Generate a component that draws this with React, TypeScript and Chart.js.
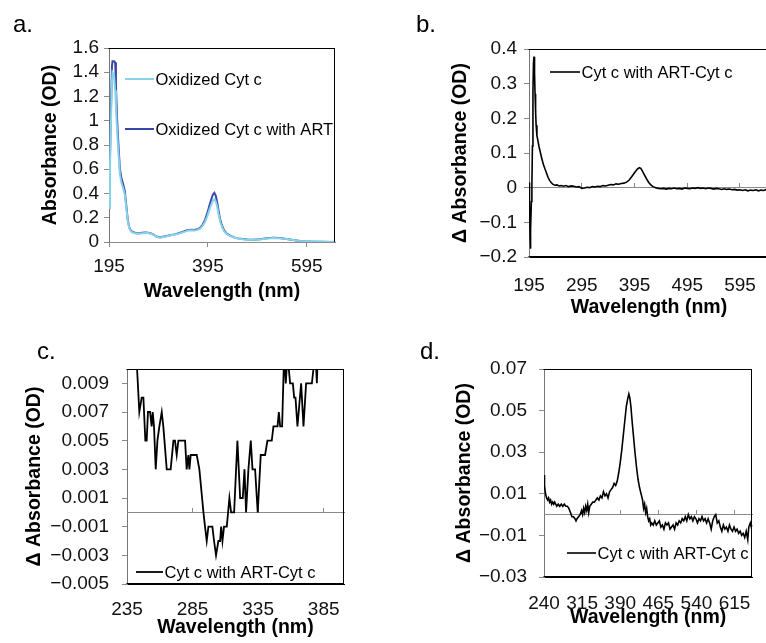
import React, { useEffect, useRef } from "react";
import { Chart, registerables } from "chart.js";

Chart.register(...registerables);

const FONT = "'Liberation Sans', Arial, Helvetica, sans-serif";

// ---------------- Panel a ----------------
const A_NM = [
  195, 197, 199, 201, 202, 205, 207.5, 209, 211, 213,
  215, 217, 220, 224, 227, 230, 233, 236, 239, 242,
  246, 250, 256, 262, 268, 274, 280, 285, 290, 295,
  300, 306, 312, 320, 328, 336, 344, 350, 356, 362,
  368, 374, 379, 384, 389, 394, 398, 402, 405, 408,
  411, 414, 417, 420, 424, 428, 433, 440, 448, 456,
  465, 475, 487, 500, 514, 527, 540, 554, 568, 581,
  595, 610, 625, 640, 652,
];
const A_OXIDIZED = [
  0.28, 0.62, 1.0, 1.32, 1.4, 1.38, 1.25, 1.12, 0.95, 0.8,
  0.68, 0.56, 0.49, 0.44, 0.39, 0.28, 0.17, 0.115, 0.09, 0.08,
  0.074, 0.07, 0.07, 0.073, 0.075, 0.074, 0.068, 0.058, 0.046, 0.039,
  0.038, 0.043, 0.048, 0.055, 0.061, 0.069, 0.079, 0.088, 0.095, 0.096,
  0.094, 0.1, 0.11, 0.13, 0.165, 0.215, 0.265, 0.31, 0.34, 0.352,
  0.335, 0.285, 0.22, 0.165, 0.12, 0.088, 0.066, 0.05, 0.037, 0.029,
  0.023, 0.019, 0.018, 0.021, 0.028, 0.033, 0.03, 0.024, 0.016, 0.009,
  0.006, 0.004, 0.003, 0.003, 0.002,
];
const A_OXIDIZED_ART = [
  0.3, 0.7, 1.1, 1.45, 1.49, 1.49, 1.48, 1.3, 1.05, 0.88,
  0.74, 0.6, 0.53, 0.47, 0.42, 0.3, 0.18, 0.12, 0.095, 0.085,
  0.078, 0.073, 0.073, 0.076, 0.078, 0.077, 0.07, 0.06, 0.047, 0.04,
  0.039, 0.045, 0.05, 0.057, 0.063, 0.072, 0.083, 0.093, 0.1, 0.101,
  0.099, 0.105, 0.116, 0.14, 0.18, 0.24, 0.3, 0.355, 0.39, 0.405,
  0.38, 0.32, 0.245, 0.18, 0.13, 0.095, 0.07, 0.052, 0.038, 0.03,
  0.024, 0.02, 0.018, 0.022, 0.03, 0.036, 0.032, 0.025, 0.016, 0.008,
  0.005, 0.003, 0.002, 0.001, 0.001,
];
const A_X_TICKS = [195, 395, 595];
const A_X_LABELS = ["195", "395", "595"];
const A_Y_TICKS = [0, 0.2, 0.4, 0.6, 0.8, 1.0, 1.2, 1.4, 1.6];
const A_Y_LABELS = ["0", "0.2", "0.4", "0.6", "0.8", "1", "1.2", "1.4", "1.6"];

// ---------------- Panel b ----------------
const B_NM = [
  195, 196, 197, 197.5, 198.5, 199.5, 200.5, 201.5, 202.5, 203.5,
  204.5, 205.5, 206.5, 207.5, 208.5, 210, 212, 214, 216, 218,
  220, 222, 225, 228, 231, 234, 237, 240, 244, 248,
  252, 256, 260, 265, 270, 275, 280, 285, 290, 295,
  300, 305, 310, 315, 320, 325, 330, 335, 340, 345,
  350, 355, 360, 365, 370, 375, 380, 385, 390, 395,
  400, 404, 407, 410, 414, 418, 422, 426, 430, 435,
  440, 445, 450, 455, 460, 465, 470, 475, 480, 485,
  490, 495, 500, 505, 510, 515, 520, 525, 530, 535,
  540, 545, 550, 555, 560, 565, 570, 575, 580, 585,
  590, 595, 600, 605, 610, 615, 620, 625, 630, 635,
  640, 645, 650,
];
const B_DELTA = [
  0.015, -0.05, -0.14, -0.176, -0.12, -0.04, 0.01, 0.12, 0.28, 0.36,
  0.378, 0.33, 0.27, 0.22, 0.18, 0.15, 0.135, 0.118, 0.105, 0.092,
  0.08, 0.068, 0.055, 0.043, 0.03, 0.021, 0.015, 0.01, 0.007, 0.008,
  0.005, 0.006, 0.004, 0.006, 0.003, 0.005, 0.004, 0.002, 0.003, -0.002,
  -0.001, 0.001, 0.0, 0.003, 0.002, 0.004, 0.003, 0.006, 0.005, 0.007,
  0.009, 0.008, 0.011, 0.01, 0.012, 0.013, 0.016, 0.022, 0.032, 0.043,
  0.053, 0.058, 0.056, 0.048, 0.036, 0.025, 0.015, 0.008, 0.003, 0.0,
  -0.002, -0.003, -0.002, -0.004, -0.002, -0.003, -0.001, -0.003, -0.002, -0.004,
  -0.001, -0.002, -0.003, -0.001, -0.002, 0.0, -0.002, -0.001, -0.003, -0.001,
  -0.002, -0.004, -0.002, -0.003, -0.005, -0.003, -0.005, -0.004, -0.006, -0.005,
  -0.007, -0.006, -0.008, -0.006, -0.009, -0.007, -0.008, -0.006, -0.009, -0.007,
  -0.008, -0.005, -0.007,
];
const B_X_TICKS = [195, 295, 395, 495, 595];
const B_X_LABELS = ["195", "295", "395", "495", "595"];
const B_Y_TICKS = [-0.2, -0.1, 0, 0.1, 0.2, 0.3, 0.4];
const B_Y_LABELS = ["\u22120.2", "\u22120.1", "0", "0.1", "0.2", "0.3", "0.4"];

// ---------------- Panel c ----------------
const C_NM = [
  238, 242.4, 244.4, 246.2, 247.5, 249.0, 250.0, 251.0, 252.6, 253.8,
  254.6, 255.6, 256.9, 258.2, 259.7, 261.5, 262.7, 265.3, 268.3, 270.4,
  271.6, 272.9, 274.2, 279.3, 280.5, 281.8, 282.6, 283.6, 288.2, 290.2,
  293.3, 294.5, 295.8, 297.1, 300.1, 301.4, 302.9, 304.7, 306.0, 306.8,
  307.8, 309.0, 311.1, 313.1, 314.4, 316.7, 319.2, 321.3, 323.3, 324.6,
  325.8, 327.6, 329.4, 330.7, 332.7, 334.7, 337.0, 340.3, 342.1, 345.4,
  346.7, 349.8, 350.8, 351.8, 353.3, 354.8, 356.1, 357.4, 359.4, 361.5,
  362.5, 363.5, 365.0, 367.8, 369.6, 371.6, 376.0, 377.2, 379.3, 379.8,
  380.5, 385, 392, 400,
];
const C_DELTA = [
  0.014, 0.0105, 0.007, 0.008, 0.008, 0.005, 0.005, 0.007, 0.007, 0.006,
  0.007, 0.006, 0.003, 0.005, 0.006, 0.007, 0.006, 0.003, 0.003, 0.005,
  0.005, 0.004, 0.005, 0.005, 0.003, 0.004, 0.003, 0.004, 0.004, 0.003,
  0.0, -0.001, -0.002, -0.001, -0.001, -0.002, -0.003, -0.002, -0.002, -0.001,
  -0.002, -0.001, -0.001, 0.001, 0.0, 0.0, 0.005, 0.001, 0.001, 0.003,
  0.0, 0.003, 0.005, 0.003, 0.003, 0.0, 0.004, 0.004, 0.005, 0.005,
  0.006, 0.006, 0.007, 0.006, 0.006, 0.011, 0.009, 0.011, 0.009, 0.009,
  0.008, 0.008, 0.006, 0.009, 0.006, 0.009, 0.009, 0.01, 0.01, 0.009,
  0.011, 0.013, 0.015, 0.016,
];
const C_X_TICKS = [235, 285, 335, 385];
const C_X_LABELS = ["235", "285", "335", "385"];
const C_Y_TICKS = [-0.005, -0.003, -0.001, 0.001, 0.003, 0.005, 0.007, 0.009];
const C_Y_LABELS = ["\u22120.005", "\u22120.003", "\u22120.001", "0.001", "0.003", "0.005", "0.007", "0.009"];

// ---------------- Panel d ----------------
const D_NM = [
  240, 241, 243, 245, 247, 249, 251, 253, 255, 257,
  259, 261, 263, 265, 268, 271, 274, 277, 280, 283,
  286, 289, 292, 295, 298, 301, 303, 305, 308, 311,
  314, 316, 318, 320, 322, 324, 326, 328, 330, 333,
  336, 339, 342, 345, 348, 351, 354, 357, 360, 363,
  366, 369, 372, 375, 378, 381, 384, 387, 390, 393,
  396, 399, 402, 405, 407, 409, 411, 413, 416, 419,
  422, 425, 428, 431, 434, 436, 438, 440, 442, 444,
  446, 448, 450, 452, 455, 458, 461, 464, 467, 470,
  473, 476, 479, 482, 485, 488, 491, 494, 497, 500,
  503, 506, 509, 512, 515, 518, 521, 524, 527, 530,
  533, 536, 539, 542, 545, 548, 551, 554, 557, 560,
  563, 566, 569, 572, 575, 578, 581, 584, 587, 590,
  593, 596, 599, 602, 605, 608, 611, 614, 617, 620,
  623, 626, 629, 632, 635, 638, 641, 643, 646, 648,
  650,
];
const D_DELTA = [
  0.019, 0.014, 0.01, 0.008, 0.007, 0.008, 0.006, 0.007, 0.005, 0.006,
  0.005, 0.006, 0.005, 0.004, 0.005, 0.004, 0.005, 0.004, 0.005, 0.004,
  0.004, 0.003, 0.001, -0.001, -0.001, -0.002, -0.003, -0.002, -0.001, 0.0,
  0.002, 0.0, 0.003, 0.001, 0.004, 0.002, 0.005, 0.001, 0.004, 0.005,
  0.006, 0.006, 0.007, 0.008, 0.007, 0.009, 0.008, 0.011, 0.009, 0.01,
  0.008, 0.011, 0.012, 0.013, 0.015, 0.014, 0.016, 0.02, 0.025, 0.031,
  0.038, 0.045, 0.052, 0.056, 0.058, 0.056, 0.052, 0.046, 0.038, 0.03,
  0.023, 0.017, 0.013, 0.01, 0.007, 0.003, 0.005, 0.001, 0.003, -0.001,
  -0.003, -0.002, -0.005, -0.004, -0.005, -0.003, -0.005, -0.004, -0.003, -0.006,
  -0.005, -0.007, -0.004, -0.005, -0.004, -0.007, -0.006, -0.005, -0.007, -0.004,
  -0.005, -0.003, -0.004, -0.002, -0.003, -0.001, -0.003, 0.0, -0.002, -0.001,
  -0.003, -0.001, -0.002, -0.004, -0.002, -0.003, -0.001, -0.003, -0.002, -0.004,
  -0.002, -0.004, -0.007, -0.003, -0.001, 0.0, -0.004, -0.003, -0.006, -0.008,
  -0.005, -0.007, -0.006, -0.008, -0.005, -0.007, -0.008, -0.006, -0.008, -0.007,
  -0.009, -0.008, -0.01, -0.009, -0.011, -0.008, -0.012, -0.006, -0.004, -0.006,
  -0.005,
];
const D_X_TICKS = [240, 315, 390, 465, 540, 615];
const D_X_LABELS = ["240", "315", "390", "465", "540", "615"];
const D_Y_TICKS = [-0.03, -0.01, 0.01, 0.03, 0.05, 0.07];
const D_Y_LABELS = ["\u22120.03", "\u22120.01", "0.01", "0.03", "0.05", "0.07"];

const LEGEND_DIFF = "Cyt c with ART-Cyt c";
const X_TITLE = "Wavelength (nm)";

// ---------------- layout / style ----------------
type Series = { label: string; x: number[]; y: number[]; color: string; width: number };
type Spec = {
  letter: string;
  letterPos: [number, number];
  canvas: { left: number; top: number; width: number; height: number };
  area: { left: number; top: number; right: number; bottom: number };
  yTitleX: number;
  xTitleY: number;
  xRange: [number, number];
  yRange: [number, number];
  xTicks: number[];
  xLabels: string[];
  yTicks: number[];
  yLabels: string[];
  yTitle: string;
  series: Series[];
  legend: { x1: number; x2: number; y: number }[];
  zeroLine: boolean;
  xTickMarks: boolean;
  xLabelPad: number;
  yLabelPad: number;
  frame: string[];
};

const TICK_SIZE = 19;
const TITLE_SIZE = 19.5;
const LEGEND_SIZE = 16.5;
const AXIS_GRAY = "#8a8a8a";

const SPECS: Spec[] = [
  {
    letter: "a.",
    letterPos: [13, 12],
    canvas: { left: 0, top: 0, width: 383, height: 315 },
    area: { left: 109, top: 48, right: 335, bottom: 242 },
    yTitleX: 51,
    xTitleY: 292,
    xRange: [195, 652],
    yRange: [0, 1.6],
    xTicks: A_X_TICKS,
    xLabels: A_X_LABELS,
    yTicks: A_Y_TICKS,
    yLabels: A_Y_LABELS,
    yTitle: "Absorbance (OD)",
    series: [
      { label: "Oxidized Cyt c", x: A_NM, y: A_OXIDIZED, color: "#86d3ea", width: 2 },
      { label: "Oxidized Cyt c with ART", x: A_NM, y: A_OXIDIZED_ART, color: "#3a47a6", width: 2 },
    ],
    legend: [
      { x1: 125, x2: 154, y: 79 },
      { x1: 125, x2: 154, y: 129 },
    ],
    zeroLine: false,
    xTickMarks: true,
    xLabelPad: 8,
    yLabelPad: 5,
    frame: ["top", "right"],
  },
  {
    letter: "b.",
    letterPos: [416, 12],
    canvas: { left: 383, top: 0, width: 420, height: 330 },
    area: { left: 529, top: 49, right: 769, bottom: 257 },
    yTitleX: 461,
    xTitleY: 308,
    xRange: [195, 650],
    yRange: [-0.2, 0.4],
    xTicks: B_X_TICKS,
    xLabels: B_X_LABELS,
    yTicks: B_Y_TICKS,
    yLabels: B_Y_LABELS,
    yTitle: "\u0394 Absorbance (OD)",
    series: [{ label: LEGEND_DIFF, x: B_NM, y: B_DELTA, color: "#000000", width: 1.6 }],
    legend: [{ x1: 550, x2: 580, y: 72 }],
    zeroLine: true,
    xTickMarks: false,
    xLabelPad: 17,
    yLabelPad: 7,
    frame: ["top", "right", "bottom"],
  },
  {
    letter: "c.",
    letterPos: [37, 339],
    canvas: { left: 0, top: 320, width: 383, height: 323 },
    area: { left: 127, top: 369, right: 344, bottom: 584 },
    yTitleX: 35,
    xTitleY: 628,
    xRange: [235, 400.5],
    yRange: [-0.005, 0.01],
    xTicks: C_X_TICKS,
    xLabels: C_X_LABELS,
    yTicks: C_Y_TICKS,
    yLabels: C_Y_LABELS,
    yTitle: "\u0394 Absorbance (OD)",
    series: [{ label: LEGEND_DIFF, x: C_NM, y: C_DELTA, color: "#000000", width: 1.8 }],
    legend: [{ x1: 136, x2: 163, y: 572 }],
    zeroLine: true,
    xTickMarks: false,
    xLabelPad: 14,
    yLabelPad: 13,
    frame: ["top", "right", "bottom"],
  },
  {
    letter: "d.",
    letterPos: [420, 339],
    canvas: { left: 383, top: 320, width: 383, height: 323 },
    area: { left: 544, top: 369, right: 759, bottom: 577 },
    yTitleX: 465,
    xTitleY: 618,
    xRange: [240, 650],
    yRange: [-0.03, 0.07],
    xTicks: D_X_TICKS,
    xLabels: D_X_LABELS,
    yTicks: D_Y_TICKS,
    yLabels: D_Y_LABELS,
    yTitle: "\u0394 Absorbance (OD)",
    series: [{ label: LEGEND_DIFF, x: D_NM, y: D_DELTA, color: "#000000", width: 1.6 }],
    legend: [{ x1: 567, x2: 596, y: 553 }],
    zeroLine: true,
    xTickMarks: false,
    xLabelPad: 15,
    yLabelPad: 12,
    frame: ["top", "right", "bottom"],
  },
];

const decorPlugin = {
  id: "panelDecor",
  afterDraw(chart: any, _args: any, opts: any) {
    const { ctx, chartArea: a } = chart;
    ctx.save();
    ctx.strokeStyle = "#000";
    ctx.lineWidth = 1;
    const L = Math.round(a.left) - 0.5;
    const R = Math.round(a.right) - 0.5;
    const T = Math.round(a.top) + 0.5;
    const B = Math.round(a.bottom) - 0.5;
    ctx.beginPath();
    if (opts.frame.includes("top")) { ctx.moveTo(L, T); ctx.lineTo(R + 0.5, T); }
    if (opts.frame.includes("right")) { ctx.moveTo(R, T); ctx.lineTo(R, B + 0.5); }
    if (opts.frame.includes("bottom")) { ctx.moveTo(L, B); ctx.lineTo(R + 0.5, B); }
    ctx.stroke();
    // inline legend
    ctx.font = `${LEGEND_SIZE}px ${FONT}`;
    ctx.textBaseline = "middle";
    ctx.textAlign = "left";
    (opts.legend || []).forEach((it: any, i: number) => {
      const ds = chart.data.datasets[i];
      ctx.strokeStyle = ds.borderColor;
      ctx.lineWidth = ds.borderWidth;
      ctx.beginPath();
      ctx.moveTo(it.x1, it.y);
      ctx.lineTo(it.x2, it.y);
      ctx.stroke();
      ctx.fillStyle = "#000";
      ctx.fillText(ds.label, it.x2 + 1.5, it.y + 1);
    });
    ctx.restore();
  },
};

function Panel({ spec }: { spec: Spec }) {
  const ref = useRef<HTMLCanvasElement | null>(null);
  useEffect(() => {
    const c = spec.canvas;
    const aL = spec.area.left - c.left;
    const aT = spec.area.top - c.top;
    const aR = spec.area.right - c.left;
    const aB = spec.area.bottom - c.top;
    const lh = TITLE_SIZE * 1.2;
    const yTitlePad = spec.yTitleX - c.left - lh / 2;
    const xTitlePad = c.height - (spec.xTitleY - c.top) - lh / 2;
    const tickFont = { family: FONT, size: TICK_SIZE, lineHeight: 1.2 };
    const titleFont = { family: FONT, size: TITLE_SIZE, weight: "bold" as const, lineHeight: 1.2 };

    const scales: any = {
      x: {
        type: "linear",
        position: "bottom",
        min: spec.xRange[0],
        max: spec.xRange[1],
        afterBuildTicks: (s: any) => { s.ticks = spec.xTicks.map((v) => ({ value: v })); },
        afterFit: (s: any) => { s.height = c.height - aB; },
        ticks: {
          font: tickFont,
          color: "#111",
          padding: spec.xLabelPad,
          maxRotation: 0,
          autoSkip: false,
          callback: (_v: any, i: number) => spec.xLabels[i],
        },
        grid: {
          display: spec.xTickMarks,
          drawOnChartArea: false,
          drawTicks: spec.xTickMarks,
          tickLength: 5,
          color: AXIS_GRAY,
          tickColor: AXIS_GRAY,
        },
        border: { display: true, color: spec.zeroLine ? "#000" : AXIS_GRAY, width: 1 },
        title: {
          display: true,
          text: X_TITLE,
          font: titleFont,
          color: "#000",
          padding: { top: 0, bottom: xTitlePad },
        },
      },
      y: {
        type: "linear",
        position: "left",
        min: spec.yRange[0],
        max: spec.yRange[1],
        afterBuildTicks: (s: any) => { s.ticks = spec.yTicks.map((v) => ({ value: v })); },
        afterFit: (s: any) => { s.width = aL; },
        ticks: {
          font: tickFont,
          color: "#111",
          padding: spec.yLabelPad,
          autoSkip: false,
          callback: (_v: any, i: number) => spec.yLabels[i],
        },
        grid: {
          display: true,
          drawOnChartArea: false,
          drawTicks: true,
          tickLength: 5,
          color: AXIS_GRAY,
          tickColor: AXIS_GRAY,
        },
        border: { display: true, color: "#777", width: 1 },
        title: {
          display: true,
          text: spec.yTitle,
          font: titleFont,
          color: "#000",
          padding: { top: yTitlePad, bottom: 0 },
        },
      },
    };
    if (spec.zeroLine) {
      scales.x0 = {
        type: "linear",
        axis: "x",
        position: { y: 0 },
        min: spec.xRange[0],
        max: spec.xRange[1],
        afterBuildTicks: (s: any) => { s.ticks = spec.xTicks.map((v) => ({ value: v })); },
        afterFit: (s: any) => { s.height = 0; },
        ticks: { display: false },
        grid: {
          display: true,
          drawOnChartArea: false,
          drawTicks: true,
          tickLength: -5,
          color: AXIS_GRAY,
          tickColor: AXIS_GRAY,
        },
        border: { display: true, color: AXIS_GRAY, width: 1 },
        title: { display: false },
      };
    }

    const chart = new Chart(ref.current as HTMLCanvasElement, {
      type: "line",
      data: {
        datasets: spec.series.map((s) => ({
          label: s.label,
          data: s.x.map((x, i) => ({ x, y: s.y[i] })),
          borderColor: s.color,
          backgroundColor: s.color,
          borderWidth: s.width,
          pointRadius: 0,
          tension: 0,
          fill: false,
          xAxisID: "x",
          yAxisID: "y",
        })),
      },
      options: {
        responsive: false,
        animation: false,
        devicePixelRatio: 1,
        layout: { padding: { left: 0, top: aT, right: c.width - aR, bottom: 0 } },
        scales,
        plugins: {
          legend: { display: false },
          tooltip: { enabled: false },
          panelDecor: { frame: spec.frame, legend: spec.legend.map((l) => ({ x1: l.x1 - c.left, x2: l.x2 - c.left, y: l.y - c.top })) },
        } as any,
      },
      plugins: [decorPlugin],
    });
    return () => chart.destroy();
  }, [spec]);

  const c = spec.canvas;
  return (
    <>
      <canvas
        ref={ref}
        width={c.width}
        height={c.height}
        style={{ position: "absolute", left: c.left, top: c.top, width: c.width, height: c.height }}
      />
      <div
        style={{
          position: "absolute",
          left: spec.letterPos[0],
          top: spec.letterPos[1],
          fontFamily: FONT,
          fontSize: 24,
          lineHeight: 1,
          color: "#000",
        }}
      >
        {spec.letter}
      </div>
    </>
  );
}

export default function App() {
  return (
    <div
      style={{
        position: "fixed",
        left: 0,
        top: 0,
        width: 766,
        height: 643,
        overflow: "hidden",
        background: "#fff",
      }}
    >
      {SPECS.map((s) => (
        <Panel key={s.letter} spec={s} />
      ))}
    </div>
  );
}
